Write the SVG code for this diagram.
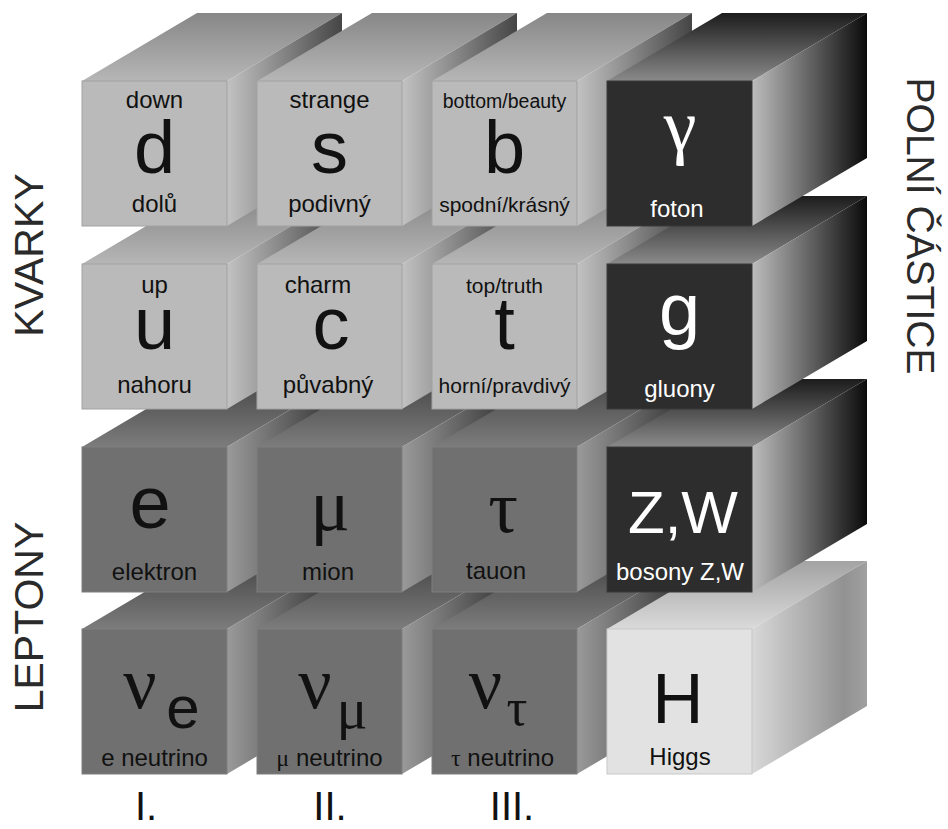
<svg xmlns="http://www.w3.org/2000/svg" width="948" height="829" viewBox="0 0 948 829">
<defs>
<linearGradient id="qTop" x1="0" y1="0" x2="0" y2="1"><stop offset="0" stop-color="#878787"/><stop offset="1" stop-color="#b6b6b6"/></linearGradient>
<linearGradient id="qSide" x1="0" y1="0" x2="1" y2="0"><stop offset="0" stop-color="#c2c2c2"/><stop offset="1" stop-color="#454545"/></linearGradient>
<linearGradient id="lTop" x1="0" y1="0" x2="0" y2="1"><stop offset="0" stop-color="#474747"/><stop offset="1" stop-color="#7c7c7c"/></linearGradient>
<linearGradient id="lSide" x1="0" y1="0" x2="1" y2="0"><stop offset="0" stop-color="#9a9a9a"/><stop offset="1" stop-color="#2e2e2e"/></linearGradient>
<linearGradient id="bTop" x1="0" y1="0" x2="0" y2="1"><stop offset="0" stop-color="#1c1c1c"/><stop offset="1" stop-color="#8a8a8a"/></linearGradient>
<linearGradient id="bSide" x1="0" y1="0" x2="1" y2="0"><stop offset="0" stop-color="#bdbdbd"/><stop offset="1" stop-color="#0a0a0a"/></linearGradient>
<linearGradient id="hTop" x1="0" y1="0" x2="0" y2="1"><stop offset="0" stop-color="#a3a3a3"/><stop offset="1" stop-color="#dadada"/></linearGradient>
<linearGradient id="hSide" x1="0" y1="0" x2="1" y2="0"><stop offset="0" stop-color="#d8d8d8"/><stop offset="0.8" stop-color="#929292"/><stop offset="1" stop-color="#a0a0a0"/></linearGradient>
</defs>
<style>
.qf{fill:#bababa;stroke:#a2a2a2;stroke-width:1}
.qt{fill:url(#qTop)}
.qs{fill:url(#qSide)}
.lf{fill:#707070;stroke:#7e7e7e;stroke-width:1}
.lt{fill:url(#lTop)}
.ls{fill:url(#lSide)}
.bf{fill:#2d2d2d;stroke:#3a3a3a;stroke-width:1}
.bt{fill:url(#bTop)}
.bs{fill:url(#bSide)}
.hf{fill:#e2e2e2;stroke:#c8c8c8;stroke-width:1}
.ht{fill:url(#hTop)}
.hs{fill:url(#hSide)}
text{font-family:"Liberation Sans",Arial,sans-serif;fill:#111;text-anchor:middle}
.lab{font-size:24px}
.sm{font-size:21px}
.big{font-size:74px}
.gr{font-family:"Liberation Serif","Times New Roman",serif}
.w{fill:#ffffff}
.side{font-size:41px;fill:#2a2a2a}
.num{font-size:40px;fill:#111}
</style>
<rect width="948" height="829" fill="#ffffff"/>

<!-- Row 4 -->
<g id="nu-e">
<polygon class="lt" points="82,629 227,629 342,561 197,561"/>
<polygon class="ls" points="227,629 342,561 342,706 227,774"/>
<rect class="lf" x="82" y="629" width="145" height="145"/>
<text class="big gr" x="140" y="708">ν</text>
<text x="183" y="728" style="font-size:60px">e</text>
<text class="lab" x="154.5" y="766">e neutrino</text>
</g>
<g id="nu-mu">
<polygon class="lt" points="257,629 402,629 517,561 372,561"/>
<polygon class="ls" points="402,629 517,561 517,706 402,774"/>
<rect class="lf" x="257" y="629" width="145" height="145"/>
<text class="big gr" x="315" y="708">ν</text>
<text class="gr" x="352" y="728" style="font-size:58px">μ</text>
<text class="lab" x="329.5" y="766"><tspan class="gr">μ</tspan> neutrino</text>
</g>
<g id="nu-tau">
<polygon class="lt" points="432,629 577,629 692,561 547,561"/>
<polygon class="ls" points="577,629 692,561 692,706 577,774"/>
<rect class="lf" x="432" y="629" width="145" height="145"/>
<text class="big gr" x="485.5" y="708">ν</text>
<text class="gr" x="517" y="725" style="font-size:52px">τ</text>
<text class="lab" x="502.5" y="766"><tspan class="gr">τ</tspan> neutrino</text>
</g>
<g id="higgs">
<polygon class="ht" points="607,629 752,629 867,561 722,561"/>
<polygon class="hs" points="752,629 867,561 867,706 752,774"/>
<rect class="hf" x="607" y="629" width="145" height="145"/>
<text x="678" y="723" style="font-size:71px">H</text>
<text class="lab" x="680" y="765">Higgs</text>
</g>

<!-- Row 3 -->
<g id="electron">
<polygon class="lt" points="82,447 227,447 342,379 197,379"/>
<polygon class="ls" points="227,447 342,379 342,524 227,592"/>
<rect class="lf" x="82" y="447" width="145" height="145"/>
<text class="big" x="150" y="528">e</text>
<text class="lab" x="154.5" y="580">elektron</text>
</g>
<g id="muon">
<polygon class="lt" points="257,447 402,447 517,379 372,379"/>
<polygon class="ls" points="402,447 517,379 517,524 402,592"/>
<rect class="lf" x="257" y="447" width="145" height="145"/>
<text class="big gr" x="330" y="530">μ</text>
<text class="lab" x="328" y="580">mion</text>
</g>
<g id="tauon">
<polygon class="lt" points="432,447 577,447 692,379 547,379"/>
<polygon class="ls" points="577,447 692,379 692,524 577,592"/>
<rect class="lf" x="432" y="447" width="145" height="145"/>
<text class="big gr" x="503" y="532">τ</text>
<text class="lab" x="496" y="579">tauon</text>
</g>
<g id="zw">
<polygon class="bt" points="607,447 752,447 867,379 722,379"/>
<polygon class="bs" points="752,447 867,379 867,524 752,592"/>
<rect class="bf" x="607" y="447" width="145" height="145"/>
<text class="w" x="683" y="533" style="font-size:60px">Z,W</text>
<text class="lab w" x="680" y="580">bosony Z,W</text>
</g>

<!-- Row 2 -->
<g id="up">
<polygon class="qt" points="82,264 227,264 342,196 197,196"/>
<polygon class="qs" points="227,264 342,196 342,341 227,409"/>
<rect class="qf" x="82" y="264" width="145" height="145"/>
<text class="lab" x="154.5" y="293">up</text>
<text class="big" x="154.5" y="349">u</text>
<text class="lab" x="154.5" y="393">nahoru</text>
</g>
<g id="charm">
<polygon class="qt" points="257,264 402,264 517,196 372,196"/>
<polygon class="qs" points="402,264 517,196 517,341 402,409"/>
<rect class="qf" x="257" y="264" width="145" height="145"/>
<text class="lab" x="318" y="293">charm</text>
<text class="big" x="331" y="349">c</text>
<text class="lab" x="328" y="393">půvabný</text>
</g>
<g id="top">
<polygon class="qt" points="432,264 577,264 692,196 547,196"/>
<polygon class="qs" points="577,264 692,196 692,341 577,409"/>
<rect class="qf" x="432" y="264" width="145" height="145"/>
<text class="sm" x="504.5" y="293">top/truth</text>
<text class="big" x="504.5" y="349">t</text>
<text class="sm" x="504.5" y="393">horní/pravdivý</text>
</g>
<g id="gluon">
<polygon class="bt" points="607,264 752,264 867,196 722,196"/>
<polygon class="bs" points="752,264 867,196 867,341 752,409"/>
<rect class="bf" x="607" y="264" width="145" height="145"/>
<text class="big w" x="679.5" y="335">g</text>
<text class="lab w" x="679.5" y="397">gluony</text>
</g>

<!-- Row 1 -->
<g id="down">
<polygon class="qt" points="82,81 227,81 342,13 197,13"/>
<polygon class="qs" points="227,81 342,13 342,158 227,226"/>
<rect class="qf" x="82" y="81" width="145" height="145"/>
<text class="lab" x="154.5" y="108">down</text>
<text class="big" x="154.5" y="173">d</text>
<text class="lab" x="154.5" y="212">dolů</text>
</g>
<g id="strange">
<polygon class="qt" points="257,81 402,81 517,13 372,13"/>
<polygon class="qs" points="402,81 517,13 517,158 402,226"/>
<rect class="qf" x="257" y="81" width="145" height="145"/>
<text class="lab" x="329.5" y="108">strange</text>
<text class="big" x="329.5" y="173">s</text>
<text class="lab" x="329.5" y="212">podivný</text>
</g>
<g id="bottom">
<polygon class="qt" points="432,81 577,81 692,13 547,13"/>
<polygon class="qs" points="577,81 692,13 692,158 577,226"/>
<rect class="qf" x="432" y="81" width="145" height="145"/>
<text x="504.5" y="108" style="font-size:19.5px">bottom/beauty</text>
<text class="big" x="504.5" y="173">b</text>
<text class="sm" x="504.5" y="212">spodní/krásný</text>
</g>
<g id="photon">
<polygon class="bt" points="607,81 752,81 867,13 722,13"/>
<polygon class="bs" points="752,81 867,13 867,158 752,226"/>
<rect class="bf" x="607" y="81" width="145" height="145"/>
<text class="big gr w" x="680" y="150">γ</text>
<text class="lab w" x="677" y="217">foton</text>
</g>

<!-- Axis labels -->
<g id="labels">
<text class="side" transform="translate(43,255) rotate(-90)" x="0" y="0">KVARKY</text>
<text class="side" transform="translate(43,617) rotate(-90)" x="0" y="0">LEPTONY</text>
<text class="side" transform="translate(907,226) rotate(90)" x="0" y="0" style="font-size:39px">POLNÍ ČÁSTICE</text>
<text class="num" x="146" y="820">I.</text>
<text class="num" x="330" y="820">II.</text>
<text class="num" x="512" y="820">III.</text>
</g>
</svg>
